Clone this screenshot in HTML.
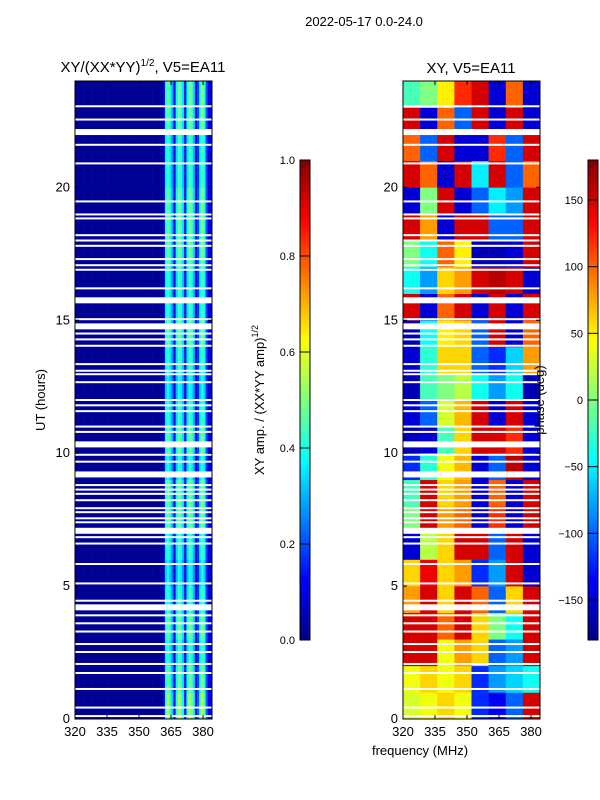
<!DOCTYPE html>
<html><head><meta charset="utf-8"><style>
body{margin:0;background:#fff;width:600px;height:800px;overflow:hidden}
svg{display:block;font-family:"Liberation Sans","DejaVu Sans",sans-serif}
</style></head><body>
<svg id="fig" width="600" height="800" viewBox="0 0 600 800" xmlns="http://www.w3.org/2000/svg">
<text x="364" y="26" font-size="13" text-anchor="middle">2022-05-17 0.0-24.0</text>
<text x="143" y="72" font-size="15" text-anchor="middle">XY/(XX*YY)<tspan font-size="10" dy="-6">1/2</tspan><tspan dy="6">, V5=EA11</tspan></text>
<text x="471" y="73" font-size="15" text-anchor="middle">XY, V5=EA11</text>
<text transform="translate(45,400) rotate(-90)" font-size="13" text-anchor="middle">UT (hours)</text>
<text x="420" y="755" font-size="13" text-anchor="middle">frequency (MHz)</text>
<text transform="translate(264,400) rotate(-90)" font-size="13" text-anchor="middle">XY amp. / (XX*YY amp)<tspan font-size="9" dy="-6">1/2</tspan></text>
<g id="left"></g>
<g id="right"></g>
<g id="axes"></g>
<text transform="translate(544,400) rotate(-90)" font-size="13" text-anchor="middle">phase (deg)</text>
</svg>
<script>
// ---- data ----
const freqEdgesLow = 320, freqEdgesHigh = 384.2;
const ampColumnProfile = [0.02,0.02,0.02,0.02,0.02,0.02,0.02,0.02,0.02,0.02,0.02,0.02,0.02,0.02,0.02,0.02,0.02,0.02,0.02,0.02,0.02,0.02,0.02,0.02,0.02,0.02,0.02,0.02,0.02,0.02,0.02,0.02,0.02,0.02,0.02,0.02,0.02,0.02,0.02,0.02,0.02,0.1,0.42,0.48,0.4,0.3,0.12,0.38,0.5,0.45,0.35,0.12,0.38,0.5,0.45,0.35,0.12,0.2,0.42,0.5,0.42,0.2,0.1,0.1];
const ampHourScale = [1.1,1.0,0.9,1.0,0.9,0.8,0.9,1.0,1.0,0.85,1.0,0.9,0.8,0.9,1.0,0.9,0.9,1.0,1.0,1.0,0.9,0.9,1.0,1.0];
const phaseGrid = [
[30,40,60,40,-120,-140,-100,150],
[40,60,40,60,-120,-80,-60,-40],
[150,150,40,80,60,-100,-80,150],
[150,150,100,150,60,0,-40,150],
[80,150,60,150,100,-100,60,150],
[60,140,60,80,-120,-80,150,-150],
[-150,20,60,150,150,-100,150,-150],
[0,150,80,100,-150,120,-150,150],
[-20,150,60,80,-150,100,-150,150],
[-120,-30,40,70,-150,-100,160,-150],
[-160,-150,-20,60,150,150,120,-150],
[-150,-100,30,70,150,-150,150,-150],
[-160,-20,0,20,-40,-80,-40,-160],
[-150,-30,60,60,-100,-120,-60,80],
[-160,-40,50,60,-100,150,-150,100],
[150,-150,100,150,-150,150,-150,150],
[-40,-80,60,80,150,160,150,-150],
[0,-40,100,50,-160,-160,-150,150],
[150,80,-150,150,150,-100,-100,150],
[-150,0,150,-150,-100,-50,-80,150],
[150,100,-150,150,-50,150,-100,100],
[100,-100,150,-150,-150,120,-100,150],
[150,-150,100,-100,150,-150,150,-150],
[-20,0,50,120,150,-150,100,-150]];
const gapHours = [23.05,22.55,21.6,20.9,19.47,18.98,18.83,18.2,18.0,17.8,17.3,17.07,16.9,16.2,15.04,14.5,14.28,14.04,13.35,13.1,12.97,12.67,12.0,11.8,11.58,11.0,10.8,9.94,9.68,8.8,8.63,8.47,8.23,7.93,7.78,7.55,7.4,6.84,6.6,5.83,5.1,4.45,3.9,3.6,3.29,2.82,2.52,2.07,1.73,1.13,0.43,0.11];
const wideGapHours = [22.08,15.75,14.77,10.33,9.2,7.08,4.2];
const xTicks = [320,335,350,365,380];
const yTicks = [0,5,10,15,20];
const ampTicks = [0.0,0.2,0.4,0.6,0.8,1.0];
const phaseTicks = [-150,-100,-50,0,50,100,150];

// ---- helpers ----
const NS="http://www.w3.org/2000/svg";
function jet(t){t=Math.max(0,Math.min(1,t));
 const r=Math.max(0,Math.min(1,1.5-Math.abs(4*t-3)));
 const g=Math.max(0,Math.min(1,1.5-Math.abs(4*t-2)));
 const b=Math.max(0,Math.min(1,1.5-Math.abs(4*t-1)));
 return `rgb(${Math.round(r*255)},${Math.round(g*255)},${Math.round(b*255)})`;}
function mk(tag,attrs,parent){const e=document.createElementNS(NS,tag);for(const k in attrs)e.setAttribute(k,attrs[k]);parent.appendChild(e);return e;}
const Y0=719,Y1=81;
const yScale=h=>Y0-(h/24)*(Y0-Y1);
function xScaleFor(x0,x1){return f=>x0+(f-freqEdgesLow)/(freqEdgesHigh-freqEdgesLow)*(x1-x0);}
const panels=[{x0:75,x1:212},{x0:403,x1:540}];
const L=document.getElementById('left'),R=document.getElementById('right'),A=document.getElementById('axes');

// left heatmap
{const xs=xScaleFor(75,212);
 const df=(freqEdgesHigh-freqEdgesLow)/ampColumnProfile.length;
 for(let h=0;h<24;h++){for(let c=0;c<ampColumnProfile.length;c++){
  const v=ampColumnProfile[c]*(c>40?ampHourScale[h]:1);
  const x=xs(freqEdgesLow+c*df),w=xs(freqEdgesLow+(c+1)*df)-x;
  const r=mk('rect',{x:x,y:yScale(h+1),width:w+0.3,height:yScale(h)-yScale(h+1)+0.3,fill:jet(v)},L);
  
  
 }}}
// right heatmap
{const xs=xScaleFor(403,540);
 const nc=phaseGrid[0].length,df=(freqEdgesHigh-freqEdgesLow)/nc;
 for(let h=0;h<24;h++){for(let c=0;c<nc;c++){
  const v=phaseGrid[h][c];
  const x=xs(freqEdgesLow+c*df),w=xs(freqEdgesLow+(c+1)*df)-x;
  const r=mk('rect',{x:x,y:yScale(h+1),width:w+0.3,height:yScale(h)-yScale(h+1)+0.3,fill:jet((v+180)/360)},R);
  
  
 }}}
// gaps
for(const p of panels){
 for(const g of gapHours){const r=mk('rect',{x:p.x0,y:yScale(g)-1,width:p.x1-p.x0,height:2,fill:'#fff'},A);
  
  }
 for(const g of wideGapHours){const r=mk('rect',{x:p.x0,y:yScale(g)-3,width:p.x1-p.x0,height:6,fill:'#fff'},A);
  
  }
}
// axes frames & ticks
for(const p of panels){
 const xs=xScaleFor(p.x0,p.x1);
 const fr=mk('rect',{x:p.x0,y:Y1,width:p.x1-p.x0,height:Y0-Y1,fill:'none',stroke:'#000','stroke-width':1},A);
 
 
 for(const t of xTicks){const x=xs(t);
  mk('line',{x1:x,x2:x,y1:Y0,y2:Y0-4,stroke:'#000'},A);mk('line',{x1:x,x2:x,y1:Y1,y2:Y1+4,stroke:'#000'},A);
  const tx=mk('text',{x:x,y:Y0+17,'font-size':13,'text-anchor':'middle'},A);tx.textContent=t;
  
  }
 for(const t of yTicks){const y=yScale(t);
  mk('line',{x1:p.x0,x2:p.x0+4,y1:y,y2:y,stroke:'#000'},A);mk('line',{x1:p.x1,x2:p.x1-4,y1:y,y2:y,stroke:'#000'},A);
  const tx=mk('text',{x:p.x0-5,y:y+4,'font-size':13,'text-anchor':'end'},A);tx.textContent=t;
  
  }
}
// colorbars
function colorbar(x,name,ticks,vmin,vmax,fmt){
 const top=160,bot=640,n=120;
 for(let i=0;i<n;i++){const t=(i+0.5)/n;
  mk('rect',{x:x,y:bot-(i+1)*(bot-top)/n,width:10,height:(bot-top)/n+0.4,fill:jet(t)},A);}
 const fr=mk('rect',{x:x,y:top,width:10,height:bot-top,fill:'none',stroke:'#000'},A);
 
 
 for(const t of ticks){const y=bot-(t-vmin)/(vmax-vmin)*(bot-top);
  mk('line',{x1:x,x2:x+10,y1:y,y2:y,stroke:'#000'},A);
  const tx=mk('text',{x:x-5,y:y+4,'font-size':11,'text-anchor':'end'},A);tx.textContent=fmt(t);
  
  }
}
colorbar(300,'amp-colorbar',ampTicks,0,1,t=>t.toFixed(1));
colorbar(588,'phase-colorbar',phaseTicks,-180,180,t=>t<0?'\u2212'+(-t):String(t));
</script>
</body></html>
